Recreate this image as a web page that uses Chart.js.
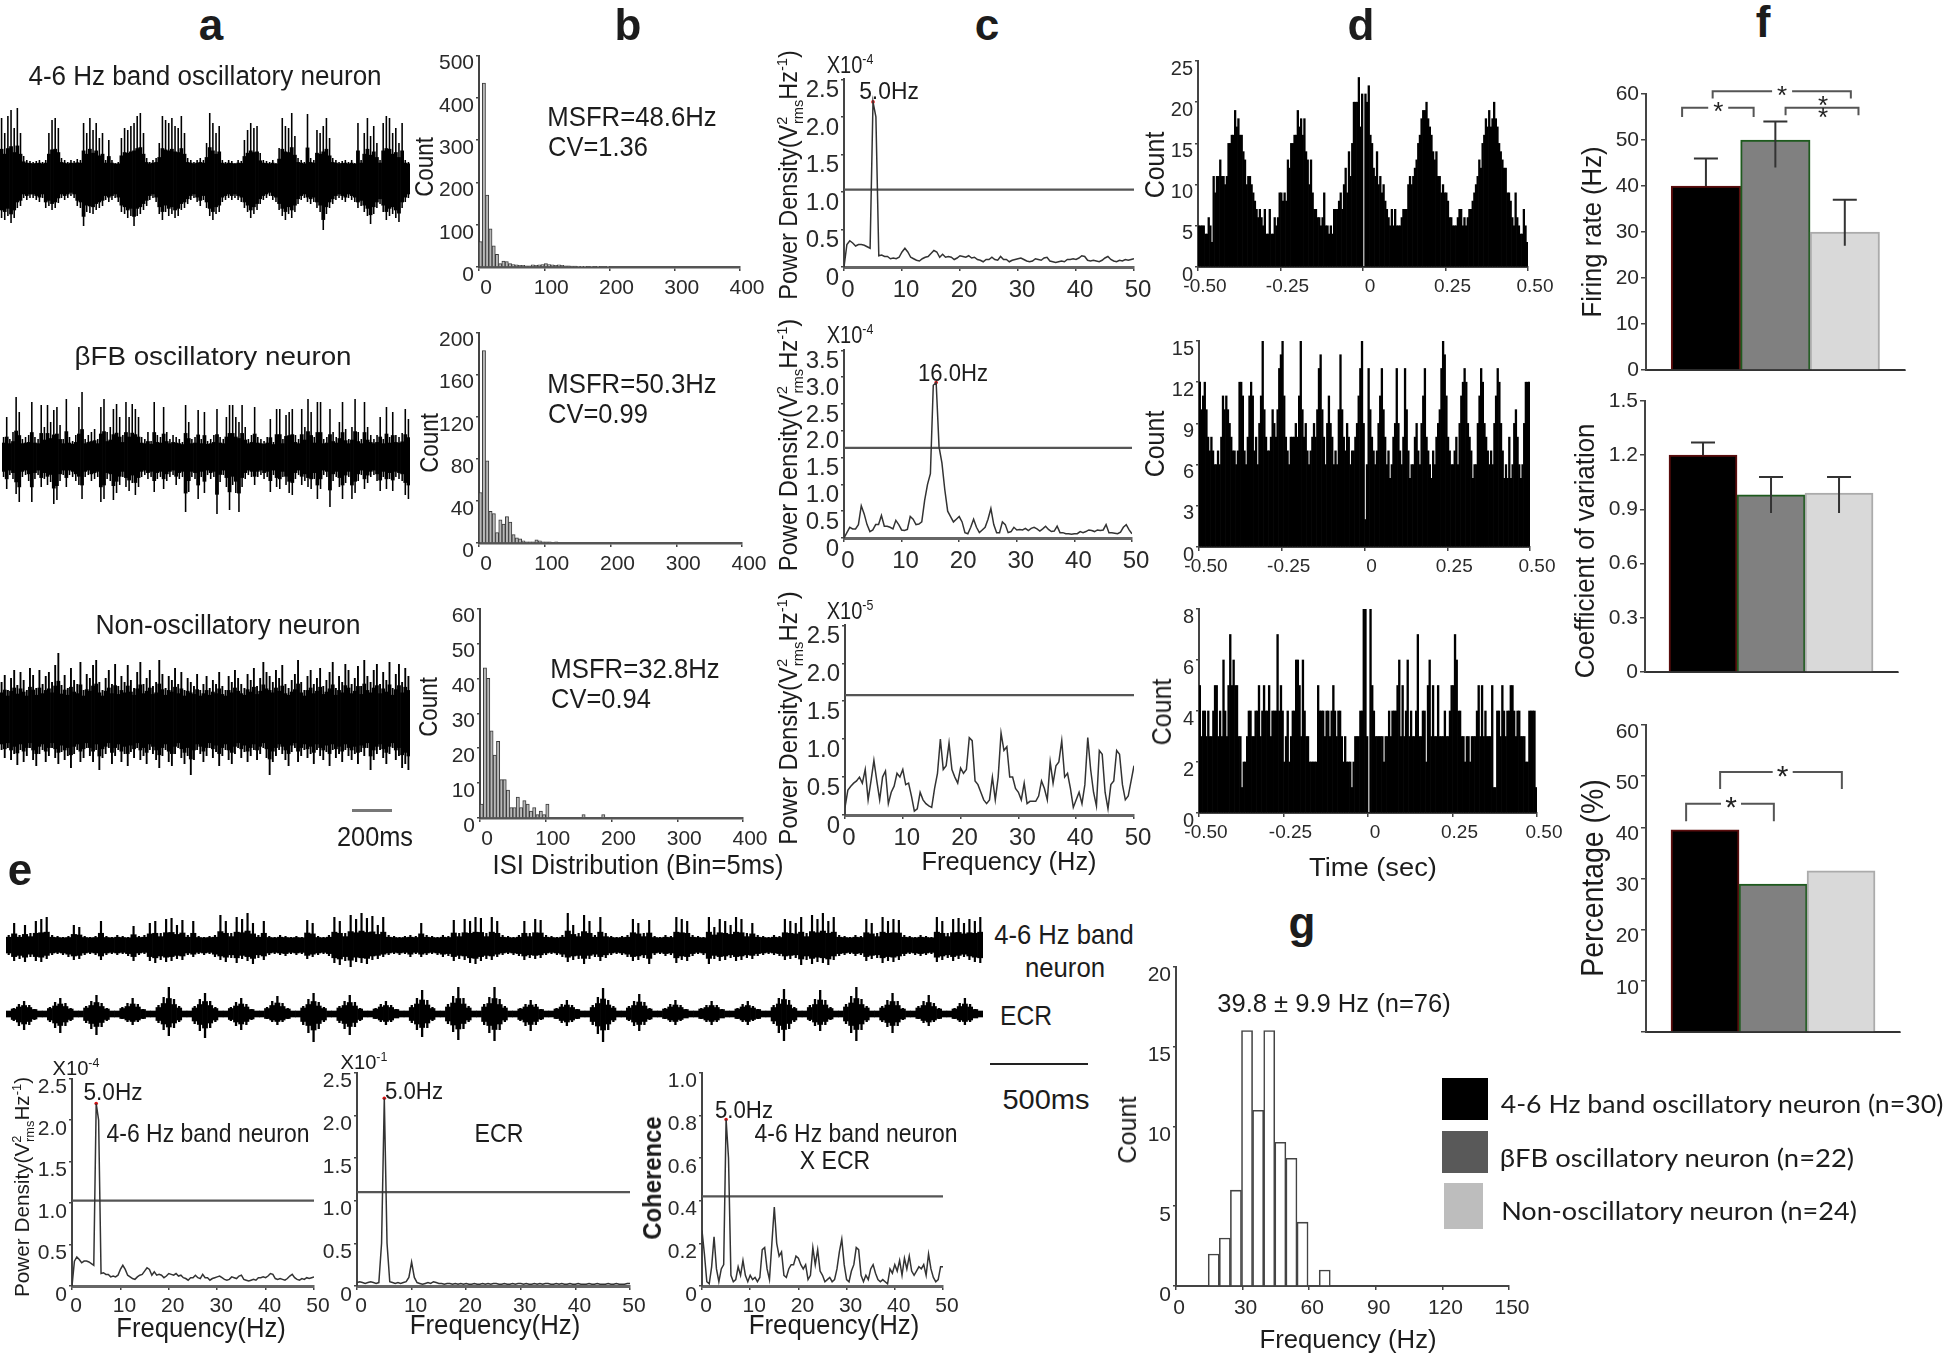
<!DOCTYPE html>
<html>
<head>
<meta charset="utf-8">
<title>Oscillatory neurons</title>
<script src="https://cdn.jsdelivr.net/npm/chart.js@4"></script>
<style>
  html, body { margin: 0; background: #fff; }
  #page { position: relative; width: 1946px; height: 1355px; overflow: hidden; background: #fff; filter: blur(0.4px); }
  #page canvas { position: absolute; }
  .t { position: absolute; white-space: nowrap; color: #1c1c1c; font-family: "Liberation Sans", Arial, sans-serif; line-height: 1; }
  .t sup, .t sub { font-size: .62em; line-height: 0; }
  .box { position: absolute; }
</style>
</head>
<body>
<div id="page"></div>
<script>
// ---- raw traces, upper and lower edge of the signal per time bin
const trace1Hi = [60,45,62,68,50,70,45,22,18,17,16,17,18,16,18,45,58,60,50,20,18,16,18,17,19,18,55,45,60,48,55,40,45,18,38,18,15,16,40,50,48,52,55,62,65,45,20,16,18,20,35,62,58,55,60,52,50,62,45,20,18,16,18,20,18,35,65,55,45,52,18,16,18,17,15,18,17,38,48,55,50,52,25,18,17,16,18,15,30,60,52,50,65,42,20,18,16,64,20,18,48,45,52,60,40,20,18,16,17,18,16,18,15,55,18,45,60,42,52,35,18,55,62,60,45,50,35,55,18,16];
const trace1Lo = [-40,-42,-38,-45,-40,-30,-28,-20,-22,-20,-20,-22,-24,-20,-30,-28,-32,-30,-25,-20,-22,-20,-18,-20,-28,-30,-48,-34,-35,-36,-32,-30,-28,-22,-24,-22,-20,-24,-34,-36,-40,-38,-48,-38,-36,-32,-28,-22,-20,-24,-36,-42,-34,-38,-36,-40,-38,-32,-30,-26,-22,-20,-24,-28,-22,-30,-38,-42,-36,-34,-24,-22,-20,-22,-20,-22,-24,-30,-34,-40,-36,-32,-26,-22,-20,-18,-22,-24,-32,-38,-42,-36,-40,-34,-26,-22,-20,-24,-26,-24,-30,-34,-52,-36,-30,-26,-22,-20,-22,-24,-20,-22,-24,-30,-28,-34,-38,-46,-36,-30,-26,-34,-42,-38,-36,-40,-44,-30,-24,-20];
const trace2Hi = [20,40,18,25,60,45,18,20,22,55,20,18,52,30,52,35,47,50,32,18,58,20,16,22,50,65,18,22,25,28,18,50,58,25,30,48,53,40,22,55,40,53,48,40,20,18,25,16,55,22,20,50,25,18,22,20,18,15,52,35,18,20,47,18,45,16,18,22,48,20,18,40,52,52,40,35,52,30,18,22,50,20,18,16,20,38,15,48,48,18,42,45,48,22,18,48,30,58,45,20,55,55,18,20,48,25,20,35,55,28,18,30,58,25,18,55,30,22,18,22,40,18,50,20,45,22,20,24,48,38];
const trace2Lo = [-20,-32,-18,-22,-37,-45,-20,-18,-24,-45,-22,-18,-30,-22,-28,-25,-47,-43,-24,-18,-30,-18,-20,-24,-28,-42,-20,-18,-24,-22,-20,-45,-42,-22,-24,-43,-36,-28,-20,-30,-34,-26,-38,-30,-20,-18,-22,-20,-35,-22,-20,-32,-24,-20,-18,-28,-22,-20,-55,-35,-20,-22,-42,-20,-36,-18,-22,-20,-57,-25,-18,-30,-53,-28,-36,-55,-30,-22,-18,-20,-28,-20,-18,-22,-20,-35,-18,-30,-32,-20,-28,-36,-38,-22,-18,-28,-24,-30,-32,-22,-42,-32,-18,-20,-50,-24,-20,-30,-42,-26,-20,-42,-36,-24,-18,-32,-26,-20,-18,-24,-34,-20,-32,-22,-34,-20,-22,-24,-38,-42];
const trace3Hi = [38,45,30,42,50,35,48,40,30,52,45,32,50,36,44,48,38,55,67,35,45,32,52,40,36,58,30,46,42,55,60,38,30,42,50,36,56,34,44,38,55,40,32,48,58,36,42,50,34,38,60,46,32,44,40,52,36,48,30,42,38,34,46,30,36,44,32,40,36,48,34,30,44,38,50,42,36,32,46,40,52,34,42,58,48,44,38,50,42,55,36,32,40,46,60,38,30,44,50,36,42,52,34,40,48,58,32,44,38,56,50,36,42,54,34,60,44,38,50,56,36,48,40,58,32,46,56,38,52,44];
const trace3Lo = [-30,-38,-28,-40,-34,-45,-30,-42,-36,-28,-40,-46,-34,-30,-42,-36,-28,-38,-44,-32,-40,-36,-48,-34,-30,-42,-38,-28,-36,-42,-30,-50,-38,-34,-28,-44,-36,-30,-42,-34,-46,-32,-38,-28,-40,-36,-44,-30,-34,-40,-48,-36,-30,-42,-46,-34,-28,-38,-44,-36,-55,-40,-30,-34,-42,-36,-28,-38,-32,-46,-36,-30,-40,-44,-34,-28,-38,-32,-42,-36,-30,-40,-34,-28,-38,-55,-42,-36,-30,-34,-40,-46,-32,-28,-42,-36,-30,-38,-34,-44,-30,-36,-40,-32,-46,-30,-38,-34,-42,-30,-36,-40,-34,-44,-32,-36,-28,-50,-40,-34,-30,-38,-44,-34,-28,-40,-36,-48,-44,-50];
const neuronHi = [10,22,10,20,12,24,26,28,10,9,8,9,20,18,9,8,9,24,9,8,10,9,8,19,9,10,22,24,12,26,27,20,25,10,24,9,8,9,10,30,24,12,28,26,32,22,10,24,9,8,10,9,8,9,8,25,22,9,8,10,28,24,12,30,26,32,27,29,20,28,10,9,8,9,10,9,22,10,9,8,10,9,25,12,26,24,28,27,12,28,24,10,9,8,10,24,12,26,25,10,9,8,10,32,20,12,30,24,10,28,12,9,8,9,10,26,22,12,25,9,8,10,9,28,26,24,10,9,8,28,18,26,24,20,28,26,12,22,10,9,8,10,9,26,24,22,28,12,30,26,32,24,28,10,9,8,10,9,26,22,12,28,24,26,25,10,9,8,10,9,8,28,24,12,26,27,22,26,24,28];
const neuronLo = [-10,-16,-14,-17,-12,-16,-17,-14,-10,-9,-10,-12,-15,-14,-10,-9,-10,-15,-10,-9,-10,-9,-11,-16,-10,-9,-16,-18,-15,-17,-16,-14,-15,-10,-12,-9,-10,-9,-12,-15,-17,-13,-18,-14,-16,-19,-13,-15,-10,-9,-10,-11,-9,-10,-9,-14,-12,-10,-9,-11,-18,-20,-16,-22,-17,-18,-19,-15,-14,-12,-10,-9,-10,-9,-12,-9,-12,-10,-9,-10,-12,-11,-16,-14,-15,-18,-19,-16,-14,-15,-12,-10,-9,-10,-11,-15,-13,-14,-13,-10,-9,-10,-12,-17,-15,-14,-19,-14,-12,-16,-13,-10,-9,-10,-12,-16,-15,-13,-19,-10,-9,-11,-10,-18,-15,-16,-11,-9,-10,-19,-14,-16,-15,-13,-16,-15,-13,-14,-11,-10,-9,-10,-11,-15,-14,-13,-20,-15,-19,-17,-18,-20,-15,-11,-10,-9,-11,-10,-16,-14,-13,-18,-16,-17,-15,-11,-9,-10,-11,-10,-9,-17,-15,-13,-16,-14,-12,-15,-17,-18];
const ecrHi = [2,6,10,13,9,5,2, 2,7,12,16,11,6,2, 2,8,13,19,11,6,2, 2,7,11,16,10,5,2, 2,9,17,27,15,8,2, 2,8,15,21,13,7,2, 2,7,12,16,10,5,2, 2,7,13,18,11,6,2, 2,8,15,21,12,7,2, 2,8,13,19,12,6,2, 2,6,10,13,9,5,2, 2,9,16,24,14,7,2, 2,10,18,27,16,8,2, 2,10,17,27,15,8,2, 2,6,10,14,10,5,2, 2,6,10,14,9,5,2, 2,9,17,26,14,8,2, 2,8,13,20,12,6,2, 2,6,10,14,9,5,2, 2,6,9,13,9,5,2, 2,6,10,13,8,5,2, 2,9,16,25,14,7,2, 2,9,15,24,14,7,2, 2,10,18,27,15,8,2, 2,8,14,21,13,6,2, 2,8,13,19,11,6,2, 2,6,11,16,10,5,2];
const ecrLo = [-2,-7,-12,-16,-11,-6,-2, -2,-8,-14,-19,-12,-7,-2, -2,-9,-15,-21,-13,-7,-2, -2,-5,-8,-11,-8,-5,-2, -2,-9,-16,-22,-14,-8,-2, -2,-10,-17,-24,-14,-8,-2, -2,-7,-12,-16,-11,-6,-2, -2,-5,-8,-11,-8,-5,-2, -2,-11,-19,-28,-15,-8,-2, -2,-9,-15,-21,-13,-7,-2, -2,-5,-8,-11,-8,-4,-2, -2,-9,-16,-23,-14,-7,-2, -2,-10,-18,-26,-15,-8,-2, -2,-11,-19,-27,-16,-8,-2, -2,-7,-12,-17,-11,-6,-2, -2,-5,-9,-12,-8,-5,-2, -2,-11,-20,-28,-16,-8,-2, -2,-7,-12,-17,-11,-6,-2, -2,-5,-8,-11,-7,-4,-2, -2,-5,-8,-11,-8,-4,-2, -2,-5,-8,-11,-7,-5,-2, -2,-10,-19,-27,-15,-8,-2, -2,-7,-12,-17,-11,-6,-2, -2,-10,-19,-27,-16,-8,-2, -2,-8,-13,-19,-12,-6,-2, -2,-5,-9,-12,-8,-5,-2, -2,-5,-8,-11,-8,-4,-2];

// ---- ISI histograms, counts per 5 ms bin starting at 0
const isi1 = [60,435,170,90,50,30,8,14,13,8,6,5,4,4,3,3,5,4,5,6,8,6,5,4,5,4,3,3,2,2,1,1,1,0,1,0,1,0,0,1];
const isi2 = [48,183,78,30,28,10,22,18,25,20,8,5,4,2,1,1,1,3,2,1,1,1,0,1];
const isi3 = [4,43,40,25,18,22,11,11,8,3,3,6,3,5,4,2,3,1,2,1,4,0,0,0,0,0,0,0,0,0,0,1,0,0,0,0,0,1];

// ---- power spectra, one value per 0.5 Hz from 0 to 50 Hz
const powerC1 = [0,.3,.35,.32,.28,.3,.3,.29,.27,.25,2.2,2.0,.15,.16,.14,.14,.11,.12,.11,.13,.2,.25,.2,.13,.11,.09,.08,.11,.13,.14,.18,.22,.2,.13,.17,.13,.14,.13,.1,.12,.15,.14,.13,.15,.12,.13,.1,.09,.07,.1,.1,.13,.1,.09,.14,.1,.1,.07,.09,.1,.11,.12,.1,.08,.07,.08,.11,.1,.09,.12,.13,.08,.07,.06,.07,.08,.07,.1,.1,.11,.1,.12,.15,.14,.09,.08,.09,.08,.07,.09,.12,.14,.1,.08,.07,.09,.08,.1,.09,.1,.11];
const powerC2 = [0,.1,.2,.17,.17,.25,.6,.45,.25,.12,.15,.25,.25,.42,.22,.22,.2,.17,.33,.25,.15,.14,.16,.4,.35,.25,.26,.3,.7,1.0,1.2,2.85,2.9,1.7,1.4,.9,.5,.4,.3,.35,.4,.3,.1,.08,.2,.35,.2,.1,.15,.2,.35,.55,.25,.1,.1,.3,.25,.1,.12,.2,.15,.16,.15,.18,.14,.18,.2,.17,.13,.17,.22,.16,.12,.13,.22,.1,.1,.08,.08,.07,.08,.08,.12,.1,.12,.15,.14,.12,.15,.14,.15,.25,.1,.1,.09,.08,.11,.2,.25,.15,.08];
const powerC3 = [.1,.33,.38,.42,.45,.5,.42,.6,.2,.45,.72,.45,.2,.5,.58,.15,.3,.38,.55,.5,.6,.4,.42,.25,.05,.08,.3,.2,.15,.12,.1,.35,.55,1.0,.6,.65,.95,.6,.5,.42,.62,.55,.6,1.02,.98,.45,.4,.3,.2,.15,.2,.5,.2,.5,1.08,.85,.9,.5,.5,.35,.3,.2,.42,.15,.18,.18,.18,.25,.45,.35,.2,.7,.42,.65,.7,.98,.5,.55,.35,.1,.2,.3,.15,.4,1.02,.6,.3,.12,.85,.8,.3,.08,.4,.45,.85,.8,.4,.2,.25,.45,.65];
const powerEcr = [.04,.05,.04,.03,.04,.05,.04,.03,.04,.5,2.2,.5,.05,.04,.03,.04,.03,.04,.05,.1,.28,.1,.04,.03,.02,.03,.04,.03,.05,.04,.03,.03,.02,.03,.03,.02,.03,.02,.03,.02,.03,.02,.02,.03,.02,.02,.03,.02,.03,.02,.03,.03,.02,.02,.03,.02,.02,.03,.02,.03,.03,.02,.03,.02,.02,.03,.02,.03,.02,.03,.03,.02,.02,.03,.02,.03,.02,.02,.03,.02,.02,.03,.02,.02,.02,.03,.02,.02,.03,.02,.02,.02,.03,.02,.02,.03,.02,.02,.02,.03,.03];
const coherence = [.26,.15,.02,.01,.09,.23,.08,.02,.08,.1,.78,.6,.05,.02,.03,.09,.05,.12,.05,.02,.05,.03,.04,.02,.04,.17,.18,.08,.03,.2,.37,.2,.14,.16,.05,.04,.08,.1,.1,.14,.13,.1,.08,.1,.03,.05,.18,.1,.17,.07,.05,.02,.03,.04,.02,.03,.08,.16,.22,.1,.03,.02,.07,.1,.18,.17,.05,.02,.05,.03,.08,.1,.06,.03,.02,.03,.02,.01,.08,.06,.1,.07,.12,.05,.13,.08,.14,.07,.05,.07,.09,.08,.1,.05,.15,.08,.04,.02,.03,.09,.09];

// ---- autocorrelograms, counts per 5 ms bin from -0.50 to 0.50 s
const acf1 = [5,5,5,5,4,4,6,5,3,11,9,11,11,13,11,11,10,11,15,15,16,16,19,17,18,16,16,14,13,10,11,11,10,9,8,7,6,7,6,5,7,4,4,7,4,4,6,5,6,9,9,8,9,8,13,12,15,15,16,16,19,17,18,16,18,14,13,10,13,9,7,7,6,6,5,6,9,5,5,4,5,4,7,7,7,8,9,7,10,12,9,14,11,15,20,20,20,23,17,21,0,21,20,22,16,15,12,11,14,10,11,9,10,8,7,6,5,7,5,7,5,5,5,6,7,7,7,10,11,10,11,12,13,15,16,18,19,19,20,18,17,16,14,13,14,11,11,9,10,9,9,8,6,6,5,5,5,6,7,7,5,6,5,6,7,7,8,9,10,11,13,12,15,16,18,17,19,17,18,20,18,17,15,14,13,12,12,9,9,8,6,5,9,6,5,4,4,7,5,3];
const acf2 = [12,10,11,12,10,8,7,8,7,6,6,7,6,8,11,10,11,10,9,8,7,7,6,7,12,12,11,7,6,8,11,12,11,7,8,6,9,11,15,10,8,7,7,8,10,9,8,10,13,14,15,11,8,7,6,8,8,8,9,8,11,15,10,8,9,7,6,7,8,9,8,10,13,14,10,8,6,9,11,9,8,6,7,6,10,14,10,8,7,9,8,6,7,7,8,9,11,13,15,9,2,6,13,10,8,7,6,7,9,11,13,10,8,6,7,5,6,8,9,13,9,7,6,8,13,10,7,5,6,6,8,9,7,6,9,11,13,8,7,6,5,7,6,8,9,10,13,15,14,11,8,7,6,6,7,8,6,9,11,12,13,12,9,8,7,5,6,6,9,11,13,12,9,8,7,6,7,6,9,11,13,12,9,7,5,6,5,8,5,6,9,10,8,6,5,6,9,12,12,12];
const acf3 = [5,3,4,4,3,4,3,3,4,5,5,3,4,3,6,4,3,5,7,5,6,5,5,3,3,1,2,2,3,4,4,3,3,4,4,5,3,4,5,4,4,5,3,4,4,4,7,4,5,4,2,3,4,2,3,4,4,6,6,5,3,6,4,3,3,2,2,2,2,2,5,4,4,4,3,4,4,3,4,5,4,3,4,4,3,2,3,2,2,2,1,2,3,3,3,4,4,8,8,3,0,8,5,4,3,3,3,3,3,2,3,3,4,3,4,4,4,5,6,3,5,3,4,6,3,4,3,3,4,7,3,3,4,4,2,5,6,3,5,3,3,5,3,3,3,4,3,3,4,5,5,7,6,4,4,3,3,2,3,3,2,3,3,3,4,5,3,5,3,4,3,3,3,5,1,1,4,4,3,5,4,3,4,4,5,5,4,3,4,4,3,3,3,2,2,4,4,4,4,1];

// ---- summary bars
const firingRate = [40, 50, 30];
const firingTop = [46, 54, 37];
const firingLow = [40, 44, 27];
const cvValues = [1.2, 0.98, 0.99];
const cvTop = [1.27, 1.08, 1.08];
const cvLow = [1.2, 0.88, 0.88];
const percentValues = [39.5, 28.9, 31.5];

// ---- firing rate distribution
const rateCenters = [17, 22, 27, 32, 37, 42, 47, 52, 57, 62, 67];
const rateCounts = [2, 3, 6, 16, 11, 16, 9, 8, 4, 0, 1];

const legendLabels = [
  "4-6 Hz band oscillatory  neuron (n=30)",
  "βFB oscillatory  neuron (n=22)",
  "Non-oscillatory  neuron (n=24)"
];

const page = document.getElementById("page");
const FONT = '"Liberation Sans", Arial, sans-serif';
const INK = "#2a2a2a";
Chart.defaults.font.family = FONT;
Chart.defaults.color = INK;
Chart.defaults.animation = false;

// text is centred on cx,cy and squeezed to the width w when given
function text(html, cx, cy, size, w, o = {}) {
  const el = document.createElement("div");
  el.className = "t";
  el.innerHTML = html;
  el.style.fontSize = size + "px";
  el.style.left = cx + "px";
  el.style.top = cy + "px";
  if (o.bold) el.style.fontWeight = "bold";
  if (o.font) el.style.fontFamily = o.font;
  page.appendChild(el);
  const k = w ? w / el.offsetWidth : 1;
  el.style.transform = `translate(-50%,-50%) rotate(${o.rot || 0}deg) scaleX(${k})`;
}

function rect(l, t, w, h, color) {
  const el = document.createElement("div");
  el.className = "box";
  el.style.cssText += `left:${l}px;top:${t}px;width:${w}px;height:${h}px;background:${color}`;
  page.appendChild(el);
}

// one chart per panel. box is the plot area in page pixels, the canvas gets
// margins around it and afterFit pins the axes so the plot area lands on box.
function panel(box, type, datasets, xOpts, yOpts, plugins = [], m = {}) {
  const ml = m.l ?? 70, mt = m.t ?? 14, mr = m.r ?? 34, mb = m.b ?? 44;
  const canvas = document.createElement("canvas");
  canvas.width = box.r - box.l + ml + mr;
  canvas.height = box.b - box.t + mt + mb;
  canvas.style.left = box.l - ml + "px";
  canvas.style.top = box.t - mt + "px";
  page.appendChild(canvas);
  return new Chart(canvas, {
    type,
    data: { datasets },
    plugins,
    options: {
      responsive: false,
      layout: { padding: { left: 0, top: mt, right: mr, bottom: 0 } },
      plugins: { legend: { display: false }, tooltip: { enabled: false } },
      scales: {
        x: Object.assign({ afterFit: s => { s.height = mb; } }, xOpts),
        y: Object.assign({ afterFit: s => { s.width = ml; } }, yOpts)
      }
    }
  });
}

function axis(min, max, step, size, o = {}) {
  return {
    type: "linear", min, max, offset: false,
    border: { color: o.axisColor || "#444", width: o.axisWidth || 2 },
    grid: { drawOnChartArea: false, offset: false, color: "#444", tickLength: o.tick ?? 4, lineWidth: 1.5 },
    ticks: {
      display: o.hide ? false : true,
      stepSize: step, autoSkip: false, maxRotation: 0, minRotation: 0,
      font: { size }, padding: o.pad ?? 2, labelOffset: o.shift || 0, color: INK,
      callback: o.fmt || (v => v)
    }
  };
}

const oneDec = v => (v === 0 ? "0" : v.toFixed(1));
const twoDec = v => (v === 0 ? "0" : v.toFixed(2));

// dense core as full width floating bars that follows the edge data, spikes thin over it
function tracePanel(hi, lo, left, right, center, c, spikeWidth) {
  const hide = { display: false };
  const core = hi.map((h, i) => ({ x: i, y: [c.lowBase + c.low * lo[i], c.base + c.up * h] }));
  const spikes = hi.map((h, i) => ({ x: i, y: [lo[i], h] }));
  const bar = { backgroundColor: "#000", grouped: false, categoryPercentage: 1 };
  panel({ l: left, r: right, t: center - 90, b: center + 90 }, "bar",
    [
      { ...bar, data: core, barPercentage: 1 },
      { ...bar, data: spikes, barPercentage: spikeWidth }
    ],
    { type: "linear", min: -0.5, max: hi.length - 0.5, offset: false, ...hide },
    { type: "linear", min: -90, max: 90, ...hide },
    [], { l: 0, t: 0, r: 0, b: 0 });
}

function isiPanel(counts, box, yMax, yStep) {
  panel(box, "bar",
    [{
      data: counts.map((c, i) => ({ x: 2.5 + i * 5, y: c })),
      backgroundColor: "#b8b8b8", borderColor: "#3a3a3a", borderWidth: 1,
      barPercentage: 1, categoryPercentage: 1
    }],
    axis(0, 400, 100, 21, { shift: 7, pad: 5, axisColor: "#555", axisWidth: 2.5 }),
    axis(0, yMax, yStep, 21, { shift: 8, tick: 3 }));
}

function spectrumPanel(values, box, yMax, yStep, threshold, peakIndex, o = {}) {
  const sets = [
    { data: values.map((v, i) => ({ x: i * 0.5, y: v })), borderColor: "#333", borderWidth: 1.5, pointRadius: 0, tension: 0 },
    { data: [{ x: 0, y: threshold }, { x: 50, y: threshold }], borderColor: "#555", borderWidth: 2.2, pointRadius: 0 }
  ];
  if (peakIndex !== null) {
    sets.push({
      data: [{ x: peakIndex * 0.5, y: values[peakIndex] }], showLine: false,
      pointRadius: 1.8, pointBackgroundColor: "#e01010", pointBorderWidth: 0
    });
  }
  panel(box, "line", sets,
    axis(0, 50, 10, o.size || 24, { shift: 4, pad: o.pad ?? 5, axisColor: "#666", axisWidth: 3 }),
    axis(0, yMax, yStep, o.size || 24, { shift: o.yShift ?? 11, fmt: oneDec, tick: 3 }));
}

function acfPanel(counts, box, yMax, yStep) {
  panel(box, "bar",
    [{
      data: counts.map((c, i) => ({ x: -0.4975 + i * 0.005, y: c })),
      backgroundColor: "#000", barPercentage: 1, categoryPercentage: 1
    }],
    axis(-0.5, 0.5, 0.25, 19, { fmt: twoDec, shift: 7, pad: 4 }),
    axis(0, yMax, yStep, 20, { shift: 8, tick: 3 }),
    [], { l: 60, r: 40 });
}

// brackets, stars and error whiskers are given in data units of the bar panel
function summaryPanel(box, first, maxX, yMax, yStep, values, tops, lows, marks, o = {}) {
  const centers = values.map((_, i) => first + i);
  const overlay = {
    id: "overlay",
    afterDatasetsDraw(chart) {
      const { ctx, scales: { x, y } } = chart;
      ctx.save();
      ctx.strokeStyle = "#333";
      ctx.lineWidth = 2;
      (tops || []).forEach((t, i) => {
        const px = x.getPixelForValue(centers[i]);
        ctx.beginPath();
        ctx.moveTo(px, y.getPixelForValue(lows[i]));
        ctx.lineTo(px, y.getPixelForValue(t));
        ctx.moveTo(px - 12, y.getPixelForValue(t));
        ctx.lineTo(px + 12, y.getPixelForValue(t));
        ctx.stroke();
      });
      ctx.strokeStyle = "#555";
      (marks.brackets || []).forEach(b => {
        ctx.beginPath();
        ctx.moveTo(x.getPixelForValue(b[0]), y.getPixelForValue(b[3]));
        ctx.lineTo(x.getPixelForValue(b[0]), y.getPixelForValue(b[2]));
        ctx.lineTo(x.getPixelForValue(b[1]), y.getPixelForValue(b[2]));
        ctx.lineTo(x.getPixelForValue(b[1]), y.getPixelForValue(b[3]));
        ctx.stroke();
      });
      ctx.textAlign = "center";
      ctx.textBaseline = "middle";
      ctx.font = `${o.star || 26}px ${FONT}`;
      (marks.stars || []).forEach(s => {
        const px = x.getPixelForValue(s[0]), py = y.getPixelForValue(s[1]);
        if (s[2]) {
          ctx.fillStyle = "#fff";
          ctx.fillRect(px - 10, py - 5, 20, 10);
        }
        ctx.fillStyle = "#222";
        ctx.fillText("*", px, py + 5);
      });
      ctx.restore();
    }
  };
  panel(box, "bar",
    [{
      data: values.map((v, i) => ({ x: centers[i], y: v })),
      backgroundColor: ["#000", "#808080", "#d9d9d9"],
      borderColor: ["#5a0d0d", "#1e5a1e", "#ababab"], borderWidth: 2,
      barPercentage: 1, categoryPercentage: 1
    }],
    axis(0, maxX, 10, 10, { hide: true, tick: 0, axisColor: "#333" }),
    axis(0, yMax, yStep, 21, { fmt: o.fmt || (v => v), shift: o.shift || 0, tick: 5 }),
    [overlay], { l: 70, t: 30, r: 10, b: 24 });
}

// ---- a: raw traces
tracePanel(trace1Hi, trace1Lo, 0, 410, 178, { base: 9, up: 0.33, lowBase: 0, low: 0.8 }, 0.5);
tracePanel(trace2Hi, trace2Lo, 2, 410, 457, { base: 8, up: 0.3, lowBase: -2, low: 0.62 }, 0.5);
tracePanel(trace3Hi, trace3Lo, 0, 410, 720, { base: 12, up: 0.4, lowBase: -6, low: 0.6 }, 0.6);
rect(352, 809, 40, 2.5, "#777");

// ---- b: ISI
isiPanel(isi1, { l: 479, r: 740, t: 55, b: 267 }, 500, 100);
isiPanel(isi2, { l: 479, r: 742, t: 332, b: 543 }, 200, 40);
isiPanel(isi3, { l: 480, r: 743, t: 608, b: 818 }, 60, 10);

// ---- c: power spectra
spectrumPanel(powerC1, { l: 844, r: 1134, t: 77, b: 267 }, 2.5, 0.5, 1.03, 10);
spectrumPanel(powerC2, { l: 844, r: 1132, t: 348, b: 538 }, 3.5, 0.5, 1.68, 32);
spectrumPanel(powerC3, { l: 845, r: 1134, t: 623, b: 815 }, 2.5, 0.5, 1.58, null);

// ---- d: autocorrelograms
acfPanel(acf1, { l: 1198, r: 1528, t: 61, b: 267 }, 25, 5);
acfPanel(acf2, { l: 1199, r: 1530, t: 341, b: 547 }, 15, 3);
acfPanel(acf3, { l: 1199, r: 1537, t: 609, b: 813 }, 8, 2);

// ---- e: neuron with muscle
tracePanel(neuronHi, neuronLo, 6, 983, 945, { base: 5, up: 0.28, lowBase: -2, low: 0.6 }, 0.4);
tracePanel(ecrHi, ecrLo, 6, 983, 1014, { base: 2, up: 0.5, lowBase: -2, low: 0.5 }, 0.45);
rect(990, 1063, 98, 2, "#222");
const eOpts = { size: 21, yShift: 9, pad: 4 };
spectrumPanel(powerC1, { l: 72, r: 314, t: 1078, b: 1286 }, 2.5, 0.5, 1.03, 10, eOpts);
spectrumPanel(powerEcr, { l: 357, r: 630, t: 1072, b: 1286 }, 2.5, 0.5, 1.1, 10, eOpts);
spectrumPanel(coherence, { l: 702, r: 943, t: 1072, b: 1286 }, 1.0, 0.2, 0.42, 10, eOpts);

// ---- f: summary bars
summaryPanel({ l: 1646, r: 1905, t: 94, b: 370 }, 0.863, 3.73, 60, 10, firingRate, firingTop, firingLow, {
  brackets: [[0.96, 2.95, 60.6, 59], [0.52, 1.55, 57, 55], [2.01, 3.06, 57, 55.4]],
  stars: [[1.96, 60.4, true], [1.04, 57, true], [2.55, 58.4, false], [2.55, 55.6, false]]
});
summaryPanel({ l: 1645, r: 1898, t: 401, b: 672 }, 0.853, 3.72, 1.5, 0.3, cvValues, cvTop, cvLow, { }, { fmt: oneDec });
summaryPanel({ l: 1646, r: 1900, t: 725, b: 1032 }, 0.868, 3.735, 60, 10, percentValues, null, null, {
  brackets: [[0.59, 1.88, 44.6, 41.2], [1.09, 2.88, 50.8, 47.5]],
  stars: [[1.25, 44.6, true], [2.01, 50.6, true]]
}, { fmt: v => (v === 0 ? "" : v), shift: 7, star: 30 });

// ---- g: firing rate histogram
panel({ l: 1176, r: 1509, t: 966, b: 1286 }, "bar",
  [{
    data: rateCenters.map((c, i) => ({ x: c, y: rateCounts[i] })),
    backgroundColor: "#fff", borderColor: "#444", borderWidth: 1.6,
    barPercentage: 1, categoryPercentage: 1
  }],
  axis(0, 150, 30, 21, { shift: 3, pad: 6 }),
  axis(0, 20, 5, 21, { shift: 9, tick: 3 }));

// ---- panel letters
[["a", 211, 25], ["b", 628, 25], ["c", 987, 25], ["d", 1361, 25], ["f", 1763, 22], ["e", 20, 870], ["g", 1302, 923]]
  .forEach(([s, x, y]) => text(s, x, y, 44, 0, { bold: true, font: FONT }));

// ---- titles and stats
text("4-6 Hz band oscillatory neuron", 205, 76, 27, 353);
text("βFB oscillatory neuron", 213, 356, 26, 277);
text("Non-oscillatory  neuron", 228, 625, 27, 265);
text("200ms", 375, 837, 27, 76);
text("MSFR=48.6Hz", 632, 117, 28, 169);
text("CV=1.36", 598, 147, 28, 100);
text("MSFR=50.3Hz", 632, 384, 28, 169);
text("CV=0.99", 598, 414, 28, 100);
text("MSFR=32.8Hz", 635, 669, 28, 169);
text("CV=0.94", 601, 699, 28, 100);

// ---- axis titles
const PD = "Power Density(V<sup>2</sup><sub style='margin-left:-.5em'>rms</sub>Hz<sup>-1</sup>)";
text("Count", 424, 167, 25, 60, { rot: -90 });
text("Count", 429, 443, 25, 60, { rot: -90 });
text("Count", 428, 707, 25, 60, { rot: -90 });
text(PD, 788, 175, 25, 250, { rot: -90 });
text(PD, 788, 445, 25, 253, { rot: -90 });
text(PD, 788, 718, 25, 254, { rot: -90 });
text("Count", 1155, 165, 28, 67, { rot: -90 });
text("Count", 1155, 444, 28, 67, { rot: -90 });
text("Count", 1162, 712, 28, 67, { rot: -90 });
text("ISI Distribution (Bin=5ms)", 638, 865, 27, 291);
text("Frequency (Hz)", 1009, 861, 26, 175);
text("Time  (sec)", 1373, 867, 26, 128);

// ---- spectrum notes
text("X10<sup>-4</sup>", 850, 65, 23, 47);
text("5.0Hz", 889, 91, 24, 60);
text("X10<sup>-4</sup>", 850, 335, 23, 47);
text("16.0Hz", 953, 373, 24, 70);
text("X10<sup>-5</sup>", 850, 611, 23, 47);

// ---- e labels
text("4-6 Hz band", 1064, 935, 28, 140);
text("neuron", 1065, 968, 28, 80);
text("ECR", 1026, 1016, 28, 52);
text("500ms", 1046, 1100, 27, 87);
text("X10<sup>-4</sup>", 76, 1067, 21, 47);
text("X10<sup>-1</sup>", 364, 1061, 21, 47);
text("5.0Hz", 113, 1092, 23, 59);
text("5.0Hz", 414, 1091, 23, 58);
text("5.0Hz", 744, 1110, 23, 58);
text("4-6 Hz band neuron", 208, 1133, 26, 203);
text("ECR", 499, 1133, 26, 49);
text("4-6 Hz band neuron", 856, 1133, 26, 203);
text("X ECR", 835, 1160, 26, 70);
text(PD, 21, 1187, 21, 220, { rot: -90 });
text("Coherence", 652, 1178, 26, 123, { rot: -90, bold: true });
text("Frequency(Hz)", 201, 1328, 27, 170);
text("Frequency(Hz)", 495, 1325, 27, 171);
text("Frequency(Hz)", 834, 1325, 27, 171);

// ---- f labels
text("Firing rate (Hz)", 1592, 232, 27, 171, { rot: -90 });
text("Coefficient of variation", 1585, 551, 27, 255, { rot: -90 });
text("Percentage (%)", 1592, 878, 32, 197, { rot: -90 });

// ---- g labels
text("Count", 1127, 1130, 26, 67, { rot: -90 });
text("39.8 ± 9.9 Hz (n=76)", 1334, 1003, 26, 234);
text("Frequency (Hz)", 1348, 1339, 26, 177);

// ---- legend
rect(1442, 1078, 46, 42, "#000");
rect(1442, 1131, 46, 42, "#595959");
rect(1444, 1183, 39, 46, "#bdbdbd");
const LEG = '"Lato", sans-serif';
text(legendLabels[0], 1722, 1103, 25, 443, { font: LEG });
text(legendLabels[1], 1677, 1157, 25, 354, { font: LEG });
text(legendLabels[2], 1679, 1210, 25, 356, { font: LEG });
</script>
</body>
</html>
